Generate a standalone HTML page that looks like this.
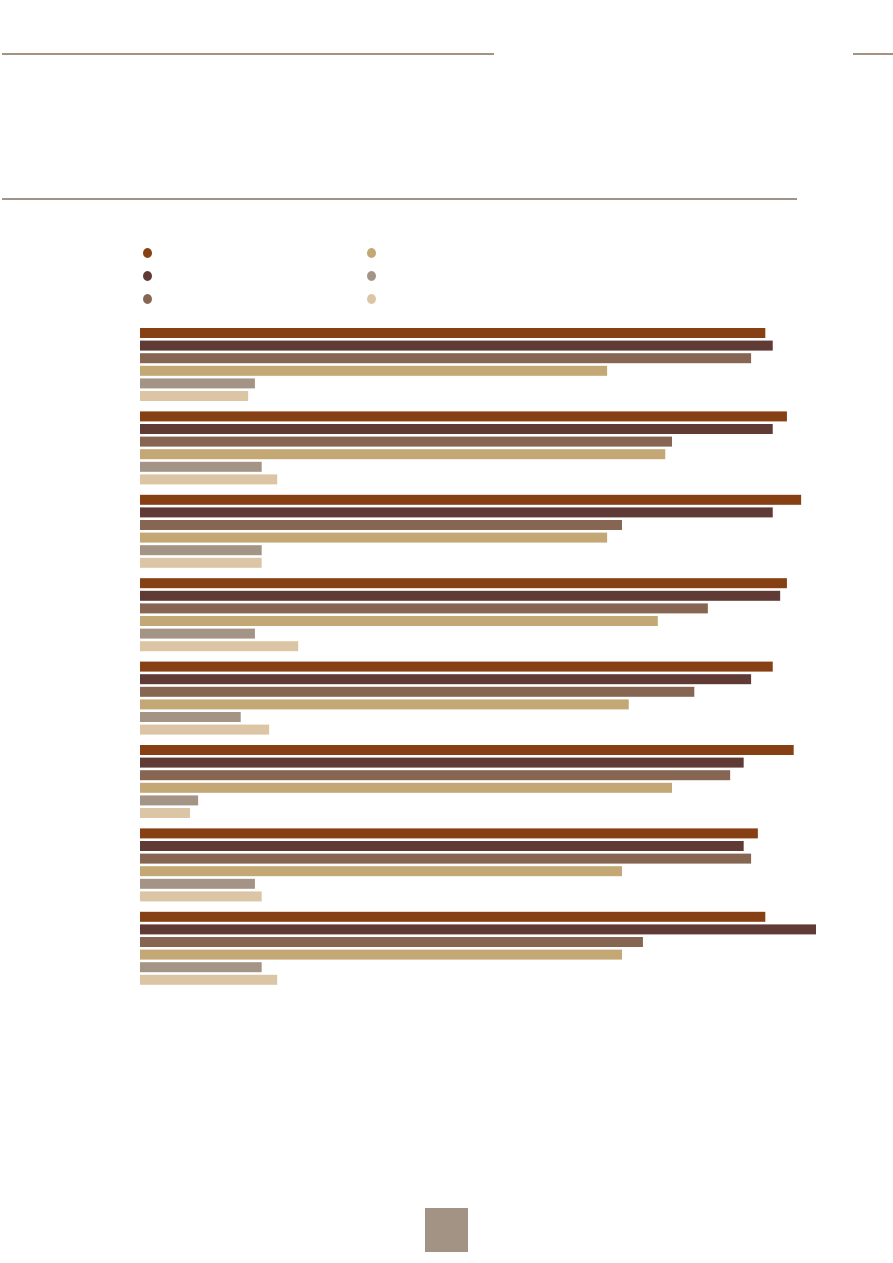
<!DOCTYPE html>
<html><head><meta charset="utf-8"><style>
body{margin:0;width:893px;height:1263px;background:#fff;position:relative;overflow:hidden;font-family:"Liberation Sans",sans-serif}
.ln{position:absolute;height:2px;background:#a39385}
.dot{position:absolute;width:9px;height:10px;border-radius:50%}
</style></head><body>
<div class="ln" style="left:2px;top:53px;width:492px"></div>
<div class="ln" style="left:853px;top:53px;width:40px"></div>
<div class="ln" style="left:2px;top:198px;width:795px"></div>
<div id="legend"></div>
<svg id="chart" width="893" height="1263" style="position:absolute;left:0;top:0"></svg>
<div style="position:absolute;left:425px;top:1208px;width:43px;height:44px;background:#a39385"></div>
<script>
const categories=["g1","g2","g3","g4","g5","g6","g7","g8"];
const s1=[92.5,95.7,97.8,95.7,93.6,96.7,91.4,92.5];
const s2=[93.6,93.6,93.6,94.7,90.4,89.3,89.3,100];
const s3=[90.4,78.7,71.3,84.0,82.0,87.3,90.4,74.4];
const s4=[69.1,77.7,69.1,76.6,72.3,78.7,71.3,71.3];
const s5=[17.0,18.0,18.0,17.0,14.9,8.6,17.0,18.0];
const s6=[16.0,20.3,18.0,23.4,19.1,7.4,18.0,20.3];
const series=[s1,s2,s3,s4,s5,s6];
const colors=["#873f14","#603a35","#866653","#c3a774","#a39486","#dcc5a5"];
const x=v=>140+v*6.76;
const gy=i=>328+i*83.4;
const by=j=>j*12.6;
const svg=document.getElementById('chart');
const NS="http://www.w3.org/2000/svg";
categories.forEach((c,i)=>{series.forEach((s,j)=>{
 const r=document.createElementNS(NS,'rect');
 r.setAttribute('x',x(0));r.setAttribute('y',gy(i)+by(j));
 r.setAttribute('width',x(s[i])-x(0));r.setAttribute('height',10);
 r.setAttribute('fill',colors[j]);
 
 
 svg.appendChild(r);
});});
const lg=document.getElementById('legend');
colors.forEach((col,j)=>{
 const d=document.createElement('div');d.className='dot';
 d.style.background=col;
 d.style.left=(j<3?143:367)+'px';
 d.style.top=(248+(j%3)*23)+'px';
 
 
 lg.appendChild(d);
});
</script>
</body></html>
